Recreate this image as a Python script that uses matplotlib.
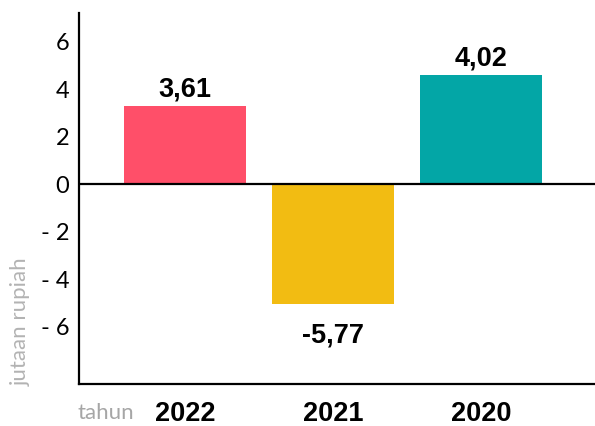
import matplotlib.pyplot as plt

# data
years = ['2022', '2021', '2020']
bar_heights = [3.28, -5.05, 4.59]      # drawn bar heights
value_labels = ['3,61', '-5,77', '4,02']
bar_colors = ['#FF4F69', '#F2BC12', '#03A6A6']
yticks = [-6, -4, -2, 0, 2, 4, 6]
ytick_labels = ['- 6', '- 4', '- 2', '0', '2', '4', '6']

fig = plt.figure(figsize=(5.95, 4.26), dpi=100)
ax = fig.add_axes([79/595, 42/426, 516/595, 371/426])

x = list(range(len(years)))
ax.bar(x, bar_heights, width=0.824, color=bar_colors, zorder=2)
ax.axhline(0, color='black', lw=1.6, zorder=3)

for xi, h, lab in zip(x, bar_heights, value_labels):
    off = 7 if h >= 0 else -28
    ax.annotate(lab, (xi, h), xytext=(0, off), textcoords='offset points',
                ha='center', va='baseline', fontsize=19.5, fontweight='bold',
                family='Liberation Sans')

ax.set_xlim(-0.716, 2.77)
ax.set_ylim(-8.42, 7.2)
ax.set_yticks(yticks)
ax.set_yticklabels(ytick_labels, fontsize=17, family='Lato')
ax.set_xticks(x)
ax.set_xticklabels(years, fontsize=19.5, fontweight='bold', family='Liberation Sans')
ax.tick_params(axis='y', length=0, pad=7)
ax.tick_params(axis='x', length=0, pad=12)

for s in ['top', 'right']:
    ax.spines[s].set_visible(False)
for s in ['left', 'bottom']:
    ax.spines[s].set_linewidth(1.6)

fig.text(78/595, 7/426, 'tahun', fontsize=16, color='#a6a6a6', family='Lato',
         ha='left', va='baseline')
fig.text(21/595, 1 - 322/426, 'jutaan rupiah', fontsize=16, color='#b3b3b3',
         family='Lato', rotation=90, ha='center', va='center')

fig.savefig('out.png', dpi=100)
